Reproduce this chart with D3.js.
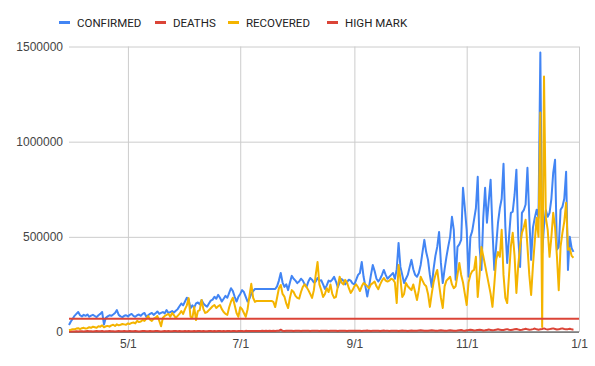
<!DOCTYPE html>
<html>
<head>
<meta charset="utf-8">
<script src="https://cdnjs.cloudflare.com/ajax/libs/d3/7.8.5/d3.min.js"></script>
<style>
    html, body { margin: 0; padding: 0; background: #fff; }
    #chart { display: block; font-family: Roboto, Arial, sans-serif; }
</style>
</head>
<body>
<svg id="chart" width="595" height="366"></svg>
<script>
// --- Data (daily values in thousands, starting 3/30) ---
const START_DATE = new Date(2020, 2, 30);

const confirmedK = [
    37, 55,                                                                  // Mar
    70, 85, 95, 105, 88, 82, 90, 85, 92, 80, 86, 90, 84, 78, 88, 95, 105, 40, 75, 82,
    88, 85, 92, 100, 115, 90, 82, 78, 85, 88,                                 // Apr
    82, 90, 95, 85, 80, 88, 92, 85, 95, 100, 80, 88, 95, 100, 90, 98, 108, 95, 100, 105,
    98, 115, 100, 105, 110, 102, 112, 120, 135, 150, 140,                     // May
    160, 180, 170, 125, 140, 128, 150, 155, 145, 168, 150, 140, 133, 150, 165, 170, 185, 175, 195, 180,
    160, 175, 190, 180, 205, 230, 215, 185, 160, 185,                         // Jun
    200, 220, 210, 185, 160, 175, 200, 215, 226, 226, 226, 226, 226, 226, 226, 226, 226, 226, 226, 226,
    240, 270, 310, 260, 237, 250, 220, 260, 295, 280, 270,                    // Jul
    257, 265, 280, 270, 250, 237, 265, 284, 275, 260, 265, 284, 270, 272, 250, 226, 245, 270, 265, 275,
    290, 265, 235, 260, 278, 270, 250, 262, 275, 270, 255,                    // Aug
    250, 275, 300, 310, 368, 290, 240, 186, 240, 300, 352, 320, 280, 265, 280, 300, 326, 300, 280, 290,
    300, 310, 280, 330, 468, 342, 300, 257, 280, 300,                         // Sep
    340, 379, 330, 300, 290, 310, 352, 420, 484, 420, 379, 300, 237, 330, 400, 447, 526, 363, 257, 330,
    395, 450, 500, 605, 537, 274, 447, 460, 484, 758, 650,                    // Oct
    537, 290, 500, 530, 590, 650, 816, 447, 326, 600, 758, 574, 690, 800, 537, 326, 450, 574, 650, 700,
    884, 553, 363, 500, 626, 632, 720, 853, 500, 342,                         // Nov
    626, 640, 670, 863, 600, 379, 550, 600, 642, 600, 1468, 416, 560, 640, 605, 626, 700, 837, 905, 432,
    447, 642, 658, 700, 842, 326, 500, 440, 421                               // Dec
];

const deathsK = [
    2, 2,
    3, 3, 4, 3, 4, 4, 3, 4, 5, 4, 4, 3, 4, 5, 4, 4, 5, 3, 4, 4, 5, 4, 4, 3, 4, 5, 4, 4, 5, 4,
    4, 5, 4, 4, 5, 4, 3, 4, 5, 5, 4, 4, 5, 4, 4, 5, 5, 4, 3, 4, 5, 4, 5, 4, 4, 5, 5, 4, 5, 4, 4,
    5, 4, 5, 4, 4, 5, 4, 5, 5, 4, 5, 4, 4, 5, 5, 4, 5, 4, 5, 5, 4, 5, 4, 5, 5, 4, 5, 5, 4, 5,
    5, 5, 4, 6, 5, 5, 5, 5, 5, 5, 5, 5, 6, 5, 6, 5, 6, 5, 6, 5, 6, 6, 12, 6, 5, 6, 7, 6, 6, 5, 6,
    6, 6, 5, 6, 7, 6, 6, 5, 6, 7, 6, 6, 5, 6, 7, 6, 6, 5, 6, 7, 6, 6, 5, 6, 7, 6, 6, 5, 6, 7, 6,
    6, 7, 6, 6, 5, 6, 7, 8, 6, 5, 6, 7, 6, 6, 5, 7, 8, 6, 6, 5, 6, 7, 6, 6, 5, 7, 8, 7, 6, 5,
    7, 8, 7, 6, 7, 8, 9, 8, 7, 6, 7, 8, 9, 8, 7, 6, 8, 9, 8, 7, 6, 8, 9, 8, 7, 6, 8, 9, 10, 8, 7,
    9, 10, 12, 10, 8, 9, 11, 12, 10, 8, 9, 11, 13, 11, 9, 10, 12, 14, 12, 10, 11, 13, 15, 12, 10, 12, 14, 16, 13, 11,
    12, 14, 17, 14, 12, 13, 15, 18, 14, 12, 14, 16, 19, 15, 13, 15, 17, 19, 16, 13, 14, 17, 19, 16, 14, 15, 17, 14, 12
];

const recoveredK = [
    10, 12,
    15, 14, 18, 20, 15, 20, 22, 18, 20, 25, 22, 28, 25, 22, 30, 28, 35, 25, 30, 32,
    28, 35, 38, 32, 40, 35, 38, 42, 40, 38,
    45, 42, 48, 50, 45, 58, 52, 55, 63, 58, 70, 84, 65, 58, 70, 75, 84, 60, 30, 75,
    84, 90, 95, 80, 100, 88, 74, 85, 95, 110, 95,
    120, 140, 178, 80, 74, 131, 63, 110, 115, 168, 120, 100, 105, 115, 125, 135, 142, 126, 135, 142,
    120, 105, 95, 90, 130, 160, 180, 140, 100, 80,
    130, 120, 100, 80, 120, 190, 253, 180, 158, 163, 163, 163, 163, 163, 163, 163, 163, 163, 158, 131,
    180, 230, 247, 200, 186, 150, 126, 180, 220, 210, 190,
    179, 175, 210, 237, 250, 237, 220, 200, 179, 220, 300, 368, 250, 220, 184, 200, 230, 210, 250, 200,
    179, 185, 240, 290, 260, 250, 274, 260, 230, 205, 220,
    240, 250, 235, 215, 240, 257, 250, 240, 230, 250, 257, 265, 240, 225, 250, 270, 284, 270, 265, 270,
    280, 275, 260, 152, 352, 280, 184, 200, 257, 240,
    230, 220, 250, 210, 168, 220, 290, 270, 250, 240, 200, 132, 200, 260, 300, 326, 250, 180, 126, 240,
    270, 280, 290, 250, 230, 240, 300, 363, 300, 260, 200,
    142, 260, 300, 320, 326, 395, 184, 300, 447, 400, 350, 300, 250, 200, 132, 250, 380, 420, 395, 537,
    300, 179, 152, 300, 450, 521, 400, 205, 350, 450,
    521, 550, 590, 450, 300, 195, 350, 480, 600, 500, 1153, 26, 1342, 600, 537, 395, 500, 626, 550, 400,
    220, 450, 521, 580, 679, 432, 440, 400, 390
];

const HIGH_MARK = 70000;

const seriesNames = ['CONFIRMED', 'DEATHS', 'RECOVERED', 'HIGH MARK'];
const seriesColors = ['#4285F4', '#DB4437', '#F4B400', '#DB4437'];

const yTickValues = [0, 500000, 1000000, 1500000];
const xTickDates = [new Date(2020, 4, 1), new Date(2020, 6, 1), new Date(2020, 8, 1), new Date(2020, 10, 1), new Date(2021, 0, 1)];

(function() {
    'use strict';

    const WIDTH = 595; const HEIGHT = 366;
    const PLOT_LEFT = 69; const PLOT_RIGHT = 579; const PLOT_TOP = 46.5; const PLOT_BOTTOM = 332;
    const GRID_COLOR = '#cccccc'; const BASELINE_COLOR = '#333333'; const LABEL_COLOR = '#444444';
    const LEGEND_X = [59, 155, 228, 327]; // swatch left edges

    const svg = d3.select('#chart').attr('width', WIDTH).attr('height', HEIGHT);

    // --- Scales ---
    const x = d3.scaleTime()
        .domain([START_DATE, new Date(2021, 0, 1)])
        .range([PLOT_LEFT, PLOT_RIGHT]);
    const y = d3.scaleLinear()
        .domain([0, 1500000])
        .range([PLOT_BOTTOM, PLOT_TOP]);

    const toRows = (arr) => arr.map((v, i) => ({ date: d3.timeDay.offset(START_DATE, i), value: v * 1000 }));
    const series = [toRows(confirmedK), toRows(deathsK), toRows(recoveredK)];

    // --- Axes / gridlines ---
    const yAxis = svg.append('g')
        .attr('transform', `translate(${PLOT_LEFT},0)`)
        .call(d3.axisLeft(y).tickValues(yTickValues).tickFormat(d3.format('d'))
            .tickSize(-(PLOT_RIGHT - PLOT_LEFT)).tickPadding(6));
    yAxis.select('.domain').remove();
    yAxis.selectAll('line').attr('stroke', GRID_COLOR);
    yAxis.selectAll('text').attr('fill', LABEL_COLOR).style('font-size', '12px');

    const xAxis = svg.append('g')
        .attr('transform', `translate(0,${PLOT_BOTTOM})`)
        .call(d3.axisBottom(x).tickValues(xTickDates).tickFormat(d => `${d.getMonth() + 1}/${d.getDate()}`)
            .tickSize(-(PLOT_BOTTOM - PLOT_TOP)).tickPadding(7));
    xAxis.select('.domain').remove();
    xAxis.selectAll('line').attr('stroke', GRID_COLOR);
    xAxis.selectAll('text').attr('fill', LABEL_COLOR).style('font-size', '12px');

    // baseline at 0
    svg.append('line')
        .attr('x1', PLOT_LEFT).attr('x2', PLOT_RIGHT)
        .attr('y1', y(0)).attr('y2', y(0))
        .attr('stroke', BASELINE_COLOR).attr('stroke-width', 1);

    // --- Series lines ---
    const line = d3.line().x(d => x(d.date)).y(d => y(d.value));
    [0, 1, 2].forEach(i => {
        svg.append('path')
            .datum(series[i])
            .attr('fill', 'none')
            .attr('stroke', seriesColors[i])
            .attr('stroke-width', 2)
            .attr('stroke-linejoin', 'round')
            .attr('d', line);
    });

    // high mark across the whole domain
    svg.append('path')
        .datum(x.domain().map(d => ({ date: d, value: HIGH_MARK })))
        .attr('fill', 'none')
        .attr('stroke', seriesColors[3])
        .attr('stroke-width', 2)
        .attr('d', line);

    // --- Legend ---
    const legend = svg.append('g');
    seriesNames.forEach((name, i) => {
        const item = legend.append('g').attr('transform', `translate(${LEGEND_X[i]},0)`);
        item.append('rect').attr('x', 0).attr('y', 21).attr('width', 11).attr('height', 3)
            .attr('fill', seriesColors[i]);
        item.append('text').attr('x', 18).attr('y', 26.5)
            .attr('fill', '#222222').style('font-size', '11.5px').text(name);
    });
})();
</script>
</body>
</html>
